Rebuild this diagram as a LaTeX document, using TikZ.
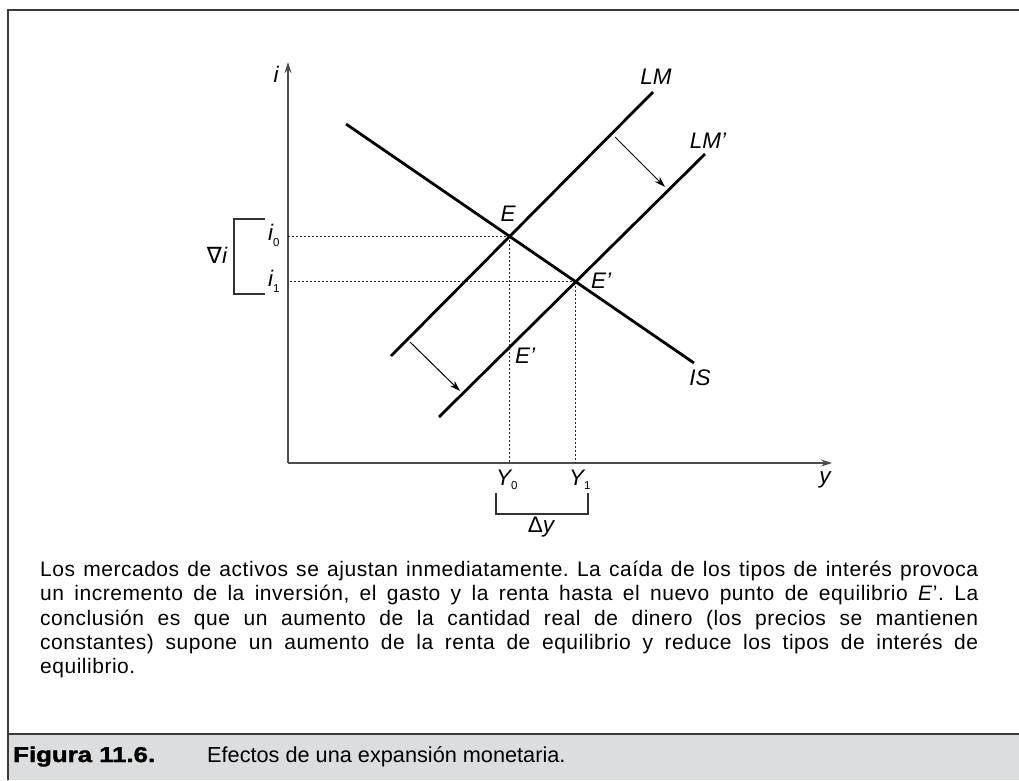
\documentclass[tikz,border=0pt]{standalone}
\usepackage{fontspec}
\setmainfont{Liberation Sans}
\newfontfamily\djv{DejaVu Sans}
\newfontfamily\paraf[LetterSpace=2.5]{Liberation Sans}
\newfontfamily\heavyf[FakeBold=1.5]{Liberation Sans Bold}
\usetikzlibrary{arrows.meta,calc}
\definecolor{bargray}{HTML}{DCDDDE}
\definecolor{framegray}{HTML}{3A3A3A}
\frenchspacing
\begin{document}
\begin{tikzpicture}[x=1pt,y=-1pt,
  curve/.style={line width=2.8pt,black},
  axis/.style={line width=1.3pt,black!70,-{Stealth[length=11pt,width=7pt]}},
  guide/.style={line width=0.9pt,dash pattern=on 2pt off 2pt,black!85},
  shiftarrow/.style={line width=1pt,black,-{Stealth[length=11pt,width=7pt]}},
  bracketline/.style={line width=1.1pt,black!80},
  lbl/.style={font=\fontsize{22.5}{22.5}\selectfont\itshape,inner sep=0pt},
  sublbl/.style={inner sep=0pt,anchor=base west,font=\fontsize{22.5}{22.5}\selectfont},
  frameline/.style={line width=1.6pt,framegray}]
\useasboundingbox (0,0) rectangle (1019,780);
\fill[white] (0,0) rectangle (1019,780);
% caption bar and frame
\fill[bargray] (8,734) rectangle (1019,780);
\draw[frameline] (8,734) -- (1019,734);
\draw[frameline] (1019,10) -- (8,10) -- (8,780);
% axes
\coordinate (O) at (288,463);
\coordinate (Ytop) at (288,62);
\coordinate (Xend) at (832,463);
\draw[axis] (O) -- (Ytop);
\draw[axis] (O) -- (Xend);
% curves
\coordinate (IS1) at (346,124);
\coordinate (IS2) at (694,363);
\coordinate (LM1) at (391,356);
\coordinate (LM2) at (653,92);
\coordinate (LMp1) at (439,417);
\coordinate (LMp2) at (705,154);
\coordinate (E) at (intersection of IS1--IS2 and LM1--LM2);
\coordinate (Ep) at (intersection of IS1--IS2 and LMp1--LMp2);
\draw[guide] (E) -- (E -| O);
\draw[guide] (E) -- (E |- O);
\draw[guide] (Ep) -- (Ep -| O);
\draw[guide] (Ep) -- (Ep |- O);
\draw[curve] (IS1) -- (IS2);
\draw[curve] (LM1) -- (LM2);
\draw[curve] (LMp1) -- (LMp2);
% shift arrows
\coordinate (sa1) at (615,137);
\coordinate (sa2) at (665,187);
\coordinate (sb1) at (410,342);
\coordinate (sb2) at (460,391);
\draw[shiftarrow] (sa1) -- (sa2);
\draw[shiftarrow] (sb1) -- (sb2);
% labels
\node[lbl] (li) at (276,74) {i};
\node[lbl] (ly) at (825,480) {y};
\node[lbl] (lLM) at (656,77) {LM};
\node[lbl] (lLMp) at (708,141) {LM’};
\node[lbl] (lIS) at (700,378) {IS};
\node[lbl] (lE) at (508,214) {E};
\node[lbl] (lEp) at (601,281) {E’};
\node[lbl] (lEp2) at (525,356) {E’};
\node[sublbl] (li0) at (268,240) {\itshape i\upshape\raisebox{-6pt}{\fontsize{11.5}{11.5}\selectfont 0}};
\node[sublbl] (li1) at (268,286) {\itshape i\upshape\raisebox{-6pt}{\fontsize{11.5}{11.5}\selectfont 1}};
\node[sublbl] (lY0) at (496,485) {\itshape Y\upshape\raisebox{-4pt}{\fontsize{11.5}{11.5}\selectfont 0}};
\node[sublbl] (lY1) at (569,485) {\itshape Y\upshape\raisebox{-4pt}{\fontsize{11.5}{11.5}\selectfont 1}};
% brackets
\coordinate (bi1) at (265,219);
\coordinate (bi2) at (234,219);
\coordinate (bi3) at (234,294);
\coordinate (bi4) at (265,294);
\draw[bracketline] (bi1) -- (bi2) -- (bi3) -- (bi4);
\coordinate (by1) at (496,493);
\coordinate (by2) at (496,514);
\coordinate (by3) at (588,514);
\coordinate (by4) at (588,493);
\draw[bracketline] (by1) -- (by2) -- (by3) -- (by4);
\node[inner sep=0pt,font=\fontsize{22.5}{22.5}\selectfont] (ldi) at (217,255) {{\djv ∇}\itshape i};
\node[inner sep=0pt,font=\fontsize{22.5}{22.5}\selectfont] (ldy) at (541,527) {Δ\itshape y};
% paragraph
\node[anchor=north west,inner sep=0pt,text width=938pt,align=justify,
      font=\paraf\fontsize{21}{24.3}\selectfont] (para) at (40,561)
 {Los mercados de activos se ajustan inmediatamente. La caída de los tipos de interés provoca\linebreak
  un incremento de la inversión, el gasto y la renta hasta el nuevo punto de equilibrio \textit{E}’. La\linebreak
  conclusión es que un aumento de la cantidad real de dinero (los precios se mantienen\linebreak
  constantes) supone un aumento de la renta de equilibrio y reduce los tipos de interés de\linebreak
  equilibrio.};
% caption
\node[anchor=base west,inner sep=0pt,font=\heavyf\fontsize{21.5}{21.5}\selectfont] (capnum) at (13,762) {\scalebox{1.2}[1]{Figura 11.6.}};
\node[anchor=base west,inner sep=0pt,font=\fontsize{21.7}{21.7}\selectfont] (captext) at (207,762) {Efectos de una expansión monetaria.};
\end{tikzpicture}
\end{document}
